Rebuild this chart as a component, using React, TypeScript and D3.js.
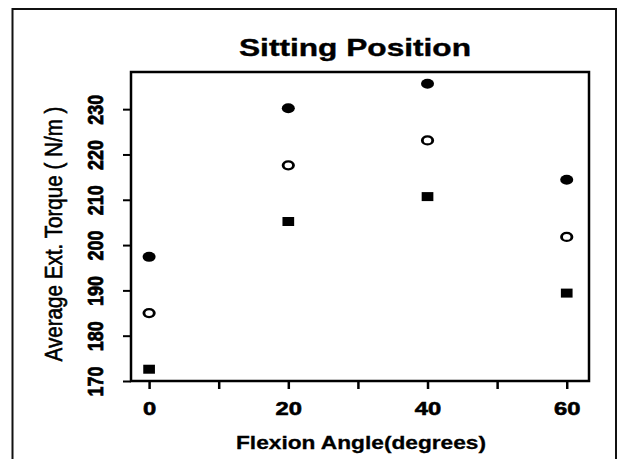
import {useEffect, useRef} from "react";
import * as d3 from "d3";

// Flexion angle (degrees) at which torque was measured
const angles = [0, 20, 40, 60];
// three groups
const filledCircle = [197.4, 230.2, 235.6, 214.4];
const openCircle = [185.0, 217.6, 223.1, 201.8];
const filledSquare = [172.6, 205.2, 210.7, 189.4];

const xTicks = [0, 10, 20, 30, 40, 50, 60];
const xTickLabels = ["0", "", "20", "", "40", "", "60"];
const yTicks = [170, 180, 190, 200, 210, 220, 230];

const title = "Sitting Position";
const xTitle = "Flexion Angle(degrees)";
const yTitle = "Average Ext. Torque ( N/m )";

export default function App() {
    const chartRef = useRef<SVGSVGElement>(null);

    useEffect(() => {
        const width = 620;
        const height = 459;
        const boxLeft = 131;
        const boxRight = 589;
        const boxTop = 72;
        const boxBottom = 381;
        const font = "'Liberation Sans', Arial, sans-serif";
        const stretch = 1.3; // the source picture is widened horizontally

        if (!chartRef.current) return;

        const svg = d3.select(chartRef.current)
            .attr("width", width)
            .attr("height", height)
            .attr("viewBox", [0, 0, width, height]);
        svg.selectAll("*").remove();

        svg.append("rect").attr("width", width).attr("height", height).attr("fill", "white");

        // outer frame, open at the bottom
        svg.append("path")
            .attr("d", `M12.5,${height + 2}V9H616V${height + 2}`)
            .attr("fill", "none")
            .attr("stroke", "#111")
            .attr("stroke-width", 2);

        const xScale = d3.scaleLinear()
            .domain([-2.6, 63.2])
            .range([boxLeft, boxRight]);

        const yScale = d3.scaleLinear()
            .domain([170, 238.2])
            .range([boxBottom, boxTop]);

        // plot box
        svg.append("rect")
            .attr("x", boxLeft)
            .attr("y", boxTop)
            .attr("width", boxRight - boxLeft)
            .attr("height", boxBottom - boxTop)
            .attr("fill", "none")
            .attr("stroke", "#000")
            .attr("stroke-width", 2.5);

        // x axis
        const gx = svg.append("g")
            .attr("transform", `translate(0,${boxBottom})`)
            .call(d3.axisBottom(xScale)
                .tickValues(xTicks)
                .tickSize(8)
                .tickSizeOuter(0)
                .tickPadding(13)
                .tickFormat((d, i) => xTickLabels[i]));
        gx.select(".domain").remove();
        gx.selectAll("line").attr("stroke", "#000").attr("stroke-width", 2.5);
        gx.selectAll("text")
            .attr("fill", "#000")
            .attr("stroke", "#000")
            .attr("stroke-width", 0.6)
            .attr("font-family", font)
            .attr("font-size", 19)
            .attr("font-weight", "bold")
            .attr("transform", `scale(1.25,1)`);

        // y axis
        const gy = svg.append("g")
            .attr("transform", `translate(${boxLeft},0)`)
            .call(d3.axisLeft(yScale)
                .tickValues(yTicks)
                .tickSize(8)
                .tickSizeOuter(0)
                .tickFormat(d3.format("d")));
        gy.select(".domain").remove();
        gy.selectAll("line").attr("stroke", "#000").attr("stroke-width", 2);
        gy.selectAll("text")
            .attr("fill", "#000")
            .attr("stroke", "#000")
            .attr("stroke-width", 0.6)
            .attr("font-family", font)
            .attr("font-size", 18)
            .attr("font-weight", "bold")
            .attr("text-anchor", "middle")
            .attr("x", null)
            .attr("dy", null)
            .attr("transform", "translate(-28,0) rotate(-90) scale(1,1.25)");

        // titles
        svg.append("text")
            .attr("x", 355)
            .attr("y", 56)
            .attr("text-anchor", "middle")
            .attr("font-family", font)
            .attr("font-size", 24)
            .attr("font-weight", "bold")
            .attr("stroke", "#000")
            .attr("stroke-width", 0.4)
            .attr("textLength", 232)
            .attr("lengthAdjust", "spacingAndGlyphs")
            .text(title);

        svg.append("text")
            .attr("x", 361)
            .attr("y", 449)
            .attr("text-anchor", "middle")
            .attr("font-family", font)
            .attr("font-size", 19)
            .attr("font-weight", "bold")
            .attr("stroke", "#000")
            .attr("stroke-width", 0.3)
            .attr("textLength", 250)
            .attr("lengthAdjust", "spacingAndGlyphs")
            .text(xTitle);

        svg.append("text")
            .attr("transform", "translate(62,234) rotate(-90) scale(1,1.25)")
            .attr("text-anchor", "middle")
            .attr("font-family", font)
            .attr("font-size", 19)
            .attr("stroke", "#000")
            .attr("stroke-width", 0.5)
            .attr("textLength", 255)
            .attr("lengthAdjust", "spacingAndGlyphs")
            .text(yTitle);

        // points
        const series = [
            {values: filledCircle, type: d3.symbolCircle, size: Math.PI * 25, fill: "#000", stroke: "none"},
            {values: openCircle, type: d3.symbolCircle, size: Math.PI * 16, fill: "white", stroke: "#000"},
            {values: filledSquare, type: d3.symbolSquare, size: 81, fill: "#000", stroke: "none"},
        ];

        series.forEach(s => {
            svg.append("g")
                .selectAll("path")
                .data(angles.map((a, i) => ({x: a, y: s.values[i]})))
                .join("path")
                .attr("transform", d => `translate(${xScale(d.x)},${yScale(d.y)}) scale(${stretch},1)`)
                .attr("d", d3.symbol().type(s.type).size(s.size)()!)
                .attr("fill", s.fill)
                .attr("stroke", s.stroke)
                .attr("stroke-width", 2.2);
        });
    }, []);

    return (
        <svg ref={chartRef} style={{position: "absolute", left: 0, top: 0, display: "block"}}/>
    );
}
